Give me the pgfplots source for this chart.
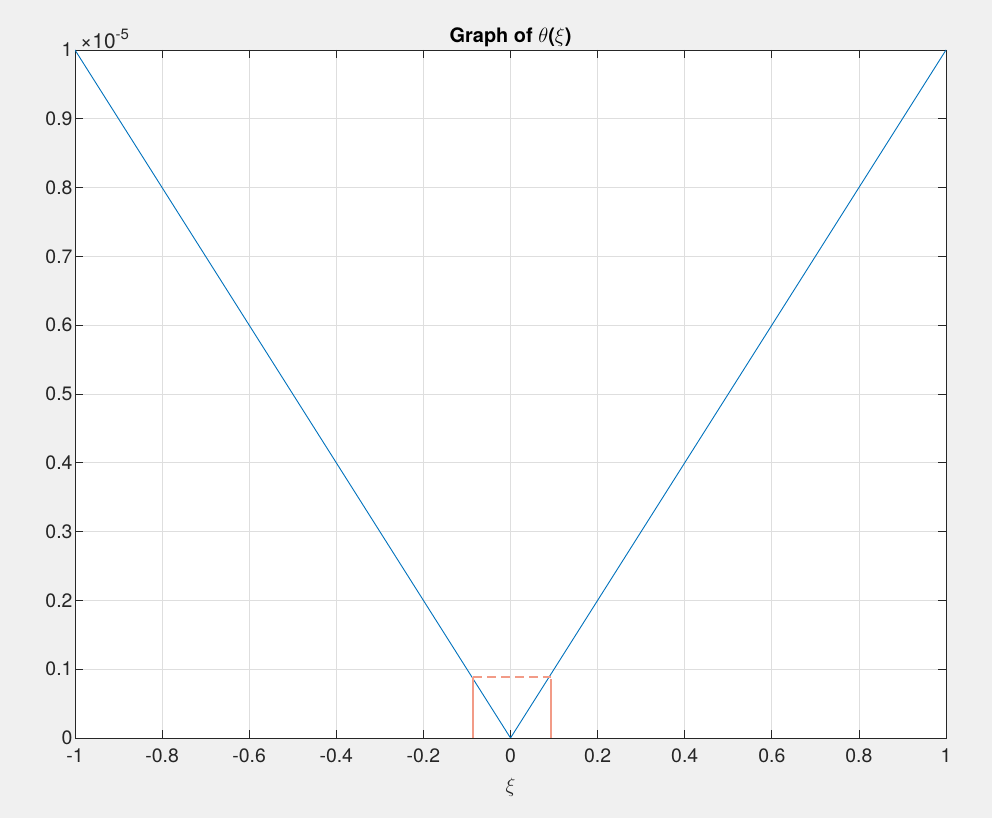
\documentclass[border=0pt]{standalone}
\usepackage{pgfplots}
\pgfplotsset{compat=1.18}
\usepackage{amsmath}
\usepackage{fontspec}
\setmainfont{TeX Gyre Heros}
\definecolor{bgg}{RGB}{240,240,240}
\definecolor{mblue}{rgb}{0,0.447,0.741}
\definecolor{salmon}{RGB}{242,155,135}
\definecolor{gridc}{RGB}{222,222,222}
\definecolor{tickc}{RGB}{38,38,38}
\begin{document}
\begin{tikzpicture}[x=1bp,y=1bp]
\fill[bgg] (0,0) rectangle (992,818);
\begin{axis}[
  name=ax,
  at={(75bp,80bp)}, anchor=south west,
  scale only axis, width=871bp, height=688bp,
  xmin=-1, xmax=1, ymin=0, ymax=1,
  axis background/.style={fill=white},
  xtick={-1,-0.8,...,1.01}, ytick={0,0.1,...,1.01},
  xticklabels={-1,-0.8,-0.6,-0.4,-0.2,0,0.2,0.4,0.6,0.8,1},
  yticklabels={0,0.1,0.2,0.3,0.4,0.5,0.6,0.7,0.8,0.9,1},
  tick align=inside, major tick length=8bp,
  tick style={tickc, line width=0.7bp},
  axis line style={tickc, line width=0.7bp},
  grid=major, grid style={gridc, line width=0.7bp},
  ticklabel style={font=\fontsize{19.5}{21}\selectfont, text=tickc},
  xticklabel style={yshift=-7bp},
  yticklabel style={xshift=1bp},
  /pgf/number format/assume math mode=true,
  title={\textbf{Graph of} $\theta$\textbf{(}$\xi$\textbf{)}},
  title style={font=\fontsize{20}{22}\selectfont\bfseries, yshift=-6bp},
  xlabel={$\xi$},
  xlabel style={font=\fontsize{21}{22}\selectfont, yshift=-9bp, text=tickc},
]
\addplot[mblue, line width=0.9bp] coordinates {(-1,1) (0,0) (1,1)};
\addplot[salmon, line width=2bp] coordinates {(-0.0855,0) (-0.0855,0.089)};
\addplot[salmon, line width=2bp] coordinates {(0.093,0) (0.093,0.086)};
\addplot[salmon, line width=2bp, dash pattern=on 9bp off 5bp] coordinates {(-0.0855,0.089) (0.093,0.089)};
\end{axis}
\node[anchor=base west, font=\fontsize{21}{23}\selectfont, text=tickc, inner sep=0pt] at ([xshift=5bp,yshift=1bp]ax.north west) {×10\raisebox{9bp}{\fontsize{15}{16}\selectfont -5}};
\end{tikzpicture}
\end{document}
